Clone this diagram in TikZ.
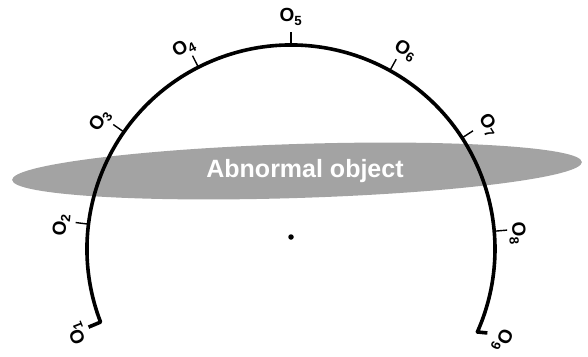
\documentclass[tikz,border=0pt]{standalone}
\usepackage{fontspec}
\setmainfont{Liberation Sans}
\usetikzlibrary{shapes.geometric}
\definecolor{objgray}{RGB}{163,163,163}

\begin{document}
\begin{tikzpicture}[x=1pt, y=1pt,
    arcline/.style={line width=3.6pt, line join=round},
    marker/.style={line width=1.4pt},
    onode/.style={font=\fontsize{19}{19}\selectfont\bfseries, inner sep=0pt}]
    \useasboundingbox (-291,-107) rectangle (297,249);

    % abnormal object
    \node[ellipse, fill=objgray, minimum width=570pt, minimum height=54pt,
          inner sep=0pt, rotate=1.8] (obj) at (6,78) {};
    \node[text=white, font=\fontsize{25}{25}\selectfont\bfseries] (abn) at (14,78) {Abnormal object};

    % arc and centre
    \draw[arcline] ([shift={(-12,-5)}]201:204) -- (201:204)
        arc[start angle=201, end angle=-24, radius=204] -- ++(10,-1);
    \node[circle, fill, inner sep=0pt, minimum size=5.5pt] (ctr) at (0,12) {};

    \draw[marker] (173:203) -- (173:217);
    \draw[marker] (145:203) -- (145:217);
    \draw[marker] (117:203) -- (117:217);
    \draw[marker] (90:203)  -- (90:217);
    \draw[marker] (61:203)  -- (61:217);
    \draw[marker] (33:203)  -- (33:217);
    \draw[marker] (5:203)   -- (5:217);

    \node[onode, rotate=111.5] (o1) at (201.5:230) {O\textsubscript{1}};
    \node[onode, rotate=84]    (o2) at (174:231)   {O\textsubscript{2}};
    \node[onode, rotate=56]    (o3) at (146:230)   {O\textsubscript{3}};
    \node[onode, rotate=28]    (o4) at (118:228)   {O\textsubscript{4}};
    \node[onode]               (o5) at (90:232)    {O\textsubscript{5}};
    \node[onode, rotate=-30]   (o6) at (60:229)    {O\textsubscript{6}};
    \node[onode, rotate=-58]   (o7) at (32:233)    {O\textsubscript{7}};
    \node[onode, rotate=-86]   (o8) at (4:227)     {O\textsubscript{8}};
    \node[onode, rotate=-113.5] (o9) at (-23.4:230) {O\textsubscript{9}};
\end{tikzpicture}
\end{document}
